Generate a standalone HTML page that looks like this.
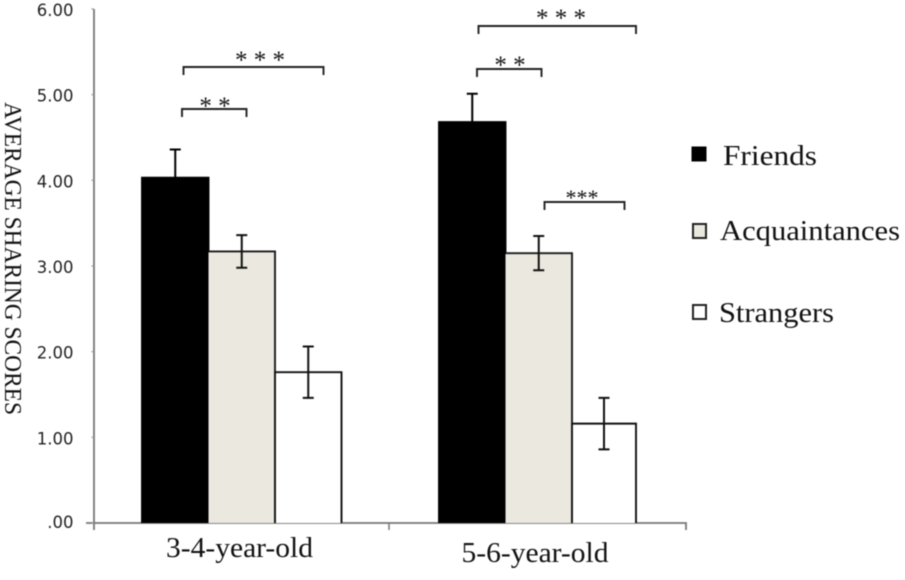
<!DOCTYPE html>
<html>
<head>
<meta charset="utf-8">
<style>
html,body{margin:0;padding:0;background:#fff;width:905px;height:580px;overflow:hidden}
svg{display:block;filter:blur(.45px)}
.serif{font-family:"Liberation Serif",serif;fill:#111}
.sans{font-family:"DejaVu Sans","Liberation Sans",sans-serif;fill:#222}
</style>
</head>
<body>
<svg id="chart" width="905" height="580" viewBox="0 0 905 580" xmlns="http://www.w3.org/2000/svg">
<g id="axes"></g>
<g id="bars"></g>
<g id="errors"></g>
<g id="sig"></g>
<text class="serif" font-size="24" transform="translate(5,102) rotate(90)" textLength="313" lengthAdjust="spacingAndGlyphs">AVERAGE SHARING SCORES</text>
<g>
<g>
<rect x="692" y="147" width="14" height="14" fill="#000" stroke="#000" stroke-width="1"/>
<text class="serif" font-size="29" x="723" y="165" textLength="94" lengthAdjust="spacingAndGlyphs">Friends</text>
</g>
<g>
<rect x="693" y="224" width="13" height="14" fill="#ebe9df" stroke="#222" stroke-width="2"/>
<text class="serif" font-size="29" x="720" y="240" textLength="180" lengthAdjust="spacingAndGlyphs">Acquaintances</text>
</g>
<g>
<rect x="693" y="305" width="13" height="14" fill="#fff" stroke="#222" stroke-width="2"/>
<text class="serif" font-size="29" x="719" y="322" textLength="115" lengthAdjust="spacingAndGlyphs">Strangers</text>
</g>
</g>
</svg>
<script>
const categories = ['3-4-year-old', '5-6-year-old'];
const friends = [4.03, 4.68];
const acquaintances = [3.17, 3.15];
const strangers = [1.76, 1.16];
const friendsErr = [0.33, 0.33];
const acquaintancesErr = [0.19, 0.20];
const strangersErr = [0.30, 0.30];
const yTicks = [0, 1, 2, 3, 4, 5, 6];
const yTickLabels = ['.00', '1.00', '2.00', '3.00', '4.00', '5.00', '6.00'];

const NS = 'http://www.w3.org/2000/svg';
const yScale = v => 523 - v * 85.67;
const groupX = i => 142 + i * 297;
const barLeft = (i, si) => groupX(i) + si * 66.5;
const barRight = (i, si) => (i === 1 && si === 2) ? 636 : barLeft(i, si) + 66.5;

function make(parent, tag, attrs) {
  const el = document.createElementNS(NS, tag);
  for (const k in attrs) el.setAttribute(k, attrs[k]);
  parent.appendChild(el);
  return el;
}

const axes = document.getElementById('axes');
const barsG = document.getElementById('bars');
const errG = document.getElementById('errors');
const sigG = document.getElementById('sig');

const yAxis = make(axes, 'line', {x1: 94, x2: 94, y1: yScale(6), y2: 530, stroke: '#777', 'stroke-width': 1.8});


const xAxis = make(axes, 'path', {d: 'M86 ' + yScale(0) + 'H686V530', fill: 'none', stroke: '#777', 'stroke-width': 1.8});


const midTick = make(axes, 'line', {x1: 389, x2: 389, y1: yScale(0), y2: 530, stroke: '#777', 'stroke-width': 1.5});



yTicks.forEach((v, i) => {
  const t = make(axes, 'line', {x1: 91.5, x2: 94, y1: yScale(v), y2: yScale(v), stroke: '#999', 'stroke-width': 1.2});
  
  
  const l = make(axes, 'text', {x: 73.5, y: yScale(v) + (v === 0 ? 5 : 7), 'text-anchor': 'end', 'font-size': 16.5, class: 'sans'});
  
  
  l.textContent = yTickLabels[i];
});

categories.forEach((c, i) => {
  const l = make(axes, 'text', {x: groupX(i) + 97.5 - i * 1.5, y: 557 + i * 5, 'text-anchor': 'middle', 'font-size': 28, class: 'serif', textLength: 147, lengthAdjust: 'spacingAndGlyphs'});
  
  
  l.textContent = c;
});

const series = [
  {name: 'friends', values: friends, err: friendsErr, fill: '#000', stroke: '#000'},
  {name: 'acquaintances', values: acquaintances, err: acquaintancesErr, fill: '#ebe9df', stroke: '#1a1a1a'},
  {name: 'strangers', values: strangers, err: strangersErr, fill: '#fff', stroke: '#111'}
];

series.forEach((s, si) => {
  s.values.forEach((v, i) => {
    const x0 = barLeft(i, si);
    const x1 = barRight(i, si);
    const y0 = yScale(0);
    const yv = yScale(v);
    const fillRect = make(barsG, 'rect', {x: x0, y: yv, width: x1 - x0, height: y0 - yv, fill: s.fill});
    
    
    const outline = si === 1
      ? 'M' + x0 + ' ' + yv + 'H' + x1 + 'V' + y0
      : 'M' + x0 + ' ' + y0 + 'V' + yv + 'H' + x1 + 'V' + y0;
    const o = make(barsG, 'path', {d: outline, fill: 'none', stroke: s.stroke, 'stroke-width': 1.9});
    
    
    const cx = (x0 + x1) / 2;
    const hi = yScale(v + s.err[i]);
    const lo = yScale(v - s.err[i]);
    const e = make(errG, 'path', {
      d: 'M' + cx + ' ' + hi + 'V' + lo + 'M' + (cx - 5.5) + ' ' + hi + 'H' + (cx + 5.5) + 'M' + (cx - 5.5) + ' ' + lo + 'H' + (cx + 5.5),
      fill: 'none', stroke: si === 0 ? '#000' : '#111', 'stroke-width': 2
    });
    
    
  });
});

function bracket(x1, x2, y, stars, sx, sy, size) {
  const b = make(sigG, 'path', {d: 'M' + x1 + ' ' + (y + 8) + 'V' + y + 'H' + x2 + 'V' + (y + 8), fill: 'none', stroke: '#222', 'stroke-width': 1.9});
  
  
  const t = make(sigG, 'text', {x: sx, y: sy, 'text-anchor': 'middle', 'font-size': size, class: 'serif'});
  
  
  t.textContent = stars;
}
bracket(183.5, 323.5, 67, '* * *', 260, 68, 25);
bracket(182, 246.5, 109, '* *', 215, 114, 25);
bracket(478.5, 636, 26, '* * *', 561, 26, 25);
bracket(477, 541.5, 69, '* *', 510, 73, 25);
bracket(544.5, 624.5, 202, '***', 582, 205, 22);
</script>
</body>
</html>
